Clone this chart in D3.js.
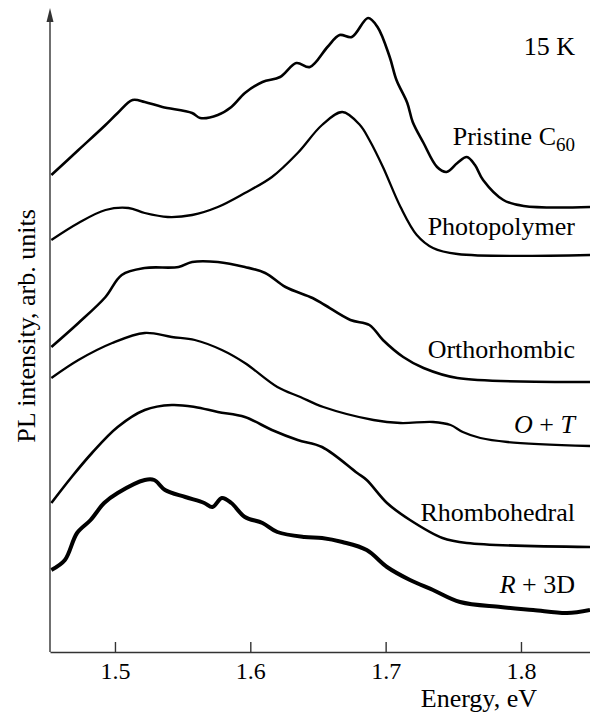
<!DOCTYPE html>
<html>
<head>
<meta charset="utf-8">
<script src="https://cdn.jsdelivr.net/npm/d3@7"></script>
<style>
  html, body { margin: 0; padding: 0; background: #fff; }
  text { font-family: "Liberation Serif", "Times New Roman", serif; }
</style>
</head>
<body>
<div id="chart"></div>
<script>
// energies (eV) and stacked PL intensity (arb. units)
const pristineE = [1.453, 1.473, 1.493, 1.502, 1.513, 1.522, 1.535, 1.557, 1.563, 1.576, 1.586, 1.596, 1.609, 1.622, 1.634, 1.644, 1.657, 1.666, 1.675, 1.687, 1.694, 1.703, 1.708, 1.716, 1.720, 1.728, 1.738, 1.745, 1.753, 1.760, 1.766, 1.772, 1.787, 1.802, 1.851]
const pristineI = [4.77, 5.02, 5.27, 5.39, 5.52, 5.50, 5.45, 5.39, 5.34, 5.37, 5.45, 5.59, 5.70, 5.75, 5.89, 5.85, 6.05, 6.17, 6.15, 6.34, 6.25, 5.95, 5.72, 5.49, 5.30, 5.09, 4.85, 4.80, 4.89, 4.95, 4.87, 4.72, 4.52, 4.46, 4.45]

const photoE = [1.453, 1.473, 1.493, 1.510, 1.522, 1.539, 1.557, 1.576, 1.596, 1.616, 1.635, 1.653, 1.668, 1.681, 1.688, 1.698, 1.711, 1.723, 1.735, 1.753, 1.851]
const photoI = [4.12, 4.29, 4.42, 4.44, 4.39, 4.35, 4.37, 4.45, 4.59, 4.75, 4.99, 5.27, 5.40, 5.27, 5.12, 4.85, 4.45, 4.17, 4.04, 3.98, 3.97]

const orthoE = [1.453, 1.473, 1.493, 1.505, 1.522, 1.547, 1.557, 1.576, 1.596, 1.611, 1.626, 1.646, 1.655, 1.674, 1.688, 1.698, 1.713, 1.728, 1.753, 1.851]
const orthoI = [3.05, 3.29, 3.55, 3.77, 3.84, 3.85, 3.90, 3.90, 3.85, 3.79, 3.65, 3.54, 3.47, 3.32, 3.27, 3.12, 2.95, 2.84, 2.74, 2.70]

const otE = [1.453, 1.473, 1.498, 1.522, 1.542, 1.559, 1.579, 1.596, 1.620, 1.637, 1.654, 1.691, 1.711, 1.735, 1.748, 1.757, 1.770, 1.790, 1.851]
const otI = [2.74, 2.92, 3.09, 3.19, 3.15, 3.12, 3.02, 2.89, 2.65, 2.55, 2.45, 2.32, 2.29, 2.30, 2.27, 2.20, 2.14, 2.10, 2.06]

const rhomboE = [1.453, 1.468, 1.483, 1.502, 1.522, 1.542, 1.559, 1.576, 1.596, 1.616, 1.635, 1.653, 1.679, 1.686, 1.701, 1.718, 1.742, 1.760, 1.851]
const rhomboI = [1.49, 1.75, 1.99, 2.25, 2.42, 2.47, 2.45, 2.40, 2.35, 2.22, 2.12, 2.05, 1.79, 1.72, 1.49, 1.32, 1.14, 1.09, 1.05]

const r3dE = [1.453, 1.463, 1.472, 1.482, 1.492, 1.502, 1.522, 1.529, 1.537, 1.552, 1.566, 1.572, 1.579, 1.586, 1.596, 1.609, 1.620, 1.640, 1.653, 1.668, 1.686, 1.701, 1.718, 1.735, 1.755, 1.785, 1.809, 1.834, 1.851]
const r3dI = [0.82, 0.92, 1.19, 1.32, 1.49, 1.59, 1.72, 1.72, 1.62, 1.55, 1.49, 1.45, 1.54, 1.49, 1.35, 1.29, 1.20, 1.15, 1.14, 1.10, 1.02, 0.85, 0.72, 0.62, 0.50, 0.45, 0.42, 0.39, 0.42]

const xTicks = [1.5, 1.6, 1.7, 1.8]

const spectra = [
    { name: "pristine", E: pristineE, I: pristineI, width: 2.6 },
    { name: "photo", E: photoE, I: photoI, width: 2.3 },
    { name: "ortho", E: orthoE, I: orthoI, width: 2.6 },
    { name: "ot", E: otE, I: otI, width: 2.3 },
    { name: "rhombo", E: rhomboE, I: rhomboI, width: 2.6 },
    { name: "r3d", E: r3dE, I: r3dI, width: 4 },
]

const dimensions = {
    width: 590,
    height: 715,
    margin: { top: 8, right: 0, bottom: 63, left: 50 },
}
dimensions.boundedWidth = dimensions.width - dimensions.margin.left - dimensions.margin.right
dimensions.boundedHeight = dimensions.height - dimensions.margin.top - dimensions.margin.bottom

const wrapper = d3.select("#chart")
    .append("svg")
    .attr("width", dimensions.width)
    .attr("height", dimensions.height)

const bounds = wrapper.append("g")
    .attr("transform", `translate(${dimensions.margin.left},${dimensions.margin.top})`)

// scales
const xScale = d3.scaleLinear()
    .domain([1.452, 1.851])
    .range([0, dimensions.boundedWidth])
const yScale = d3.scaleLinear()
    .domain([0, dimensions.boundedHeight / 100])
    .range([dimensions.boundedHeight, 0])

// curves
const lineGenerator = d3.line()
    .x(d => xScale(d[0]))
    .y(d => yScale(d[1]))
    .curve(d3.curveCatmullRom.alpha(0.5))

bounds.selectAll("path.spectrum")
    .data(spectra)
    .enter()
    .append("path")
    .attr("class", "spectrum")
    .attr("d", s => lineGenerator(s.E.map((e, i) => [e, s.I[i]])))
    .attr("fill", "none")
    .attr("stroke", "#000")
    .attr("stroke-width", s => s.width)
    .attr("stroke-linejoin", "round")

// x axis, ticks pointing inward
const xAxis = bounds.append("g")
    .attr("transform", `translate(0,${dimensions.boundedHeight})`)
    .call(d3.axisBottom(xScale)
        .tickValues(xTicks)
        .tickFormat(d3.format(".1f"))
        .tickSizeInner(-10)
        .tickSizeOuter(0)
        .tickPadding(10))
xAxis.select(".domain").attr("stroke", "#333").attr("stroke-width", 1.4)
xAxis.selectAll(".tick line").attr("stroke", "#333").attr("stroke-width", 1.4)
xAxis.selectAll(".tick text")
    .attr("font-family", "Liberation Serif")
    .attr("font-size", 24)
    .attr("fill", "#000")

bounds.append("text")
    .attr("x", 487)
    .attr("y", 699)
    .attr("text-anchor", "end")
    .attr("font-size", 26)
    .text("Energy, eV")

// y axis with arrow
bounds.append("line")
    .attr("x1", 0).attr("x2", 0)
    .attr("y1", dimensions.boundedHeight).attr("y2", 4)
    .attr("stroke", "#333")
    .attr("stroke-width", 1.4)
bounds.append("path")
    .attr("d", "M0,0 L-3.5,14 L3.5,14 Z")
    .attr("fill", "#333")

bounds.append("text")
    .attr("transform", `translate(-15,${318}) rotate(-90)`)
    .attr("text-anchor", "middle")
    .attr("font-size", 26)
    .text("PL intensity, arb. units")

// series labels
const labelX = 525
const labels = [
    { y: 47, text: "15 K" },
    { y: 137, text: "Pristine C", sub: "60" },
    { y: 227, text: "Photopolymer" },
    { y: 350, text: "Orthorhombic" },
    { y: 425, text: "O + T" },
    { y: 513, text: "Rhombohedral" },
    { y: 585, text: "R + 3D" },
]
labels.forEach(l => {
    const t = bounds.append("text")
        .attr("x", labelX)
        .attr("y", l.y)
        .attr("text-anchor", "end")
        .attr("font-size", 26)
    if (l.text === "O + T") {
        t.append("tspan").attr("font-style", "italic").text("O")
        t.append("tspan").text(" + ")
        t.append("tspan").attr("font-style", "italic").text("T")
    } else if (l.text === "R + 3D") {
        t.append("tspan").attr("font-style", "italic").text("R")
        t.append("tspan").text(" + 3D")
    } else {
        t.append("tspan").text(l.text)
        if (l.sub) t.append("tspan").attr("font-size", 19).attr("dy", 6).text(l.sub)
    }
})
</script>
</body>
</html>
